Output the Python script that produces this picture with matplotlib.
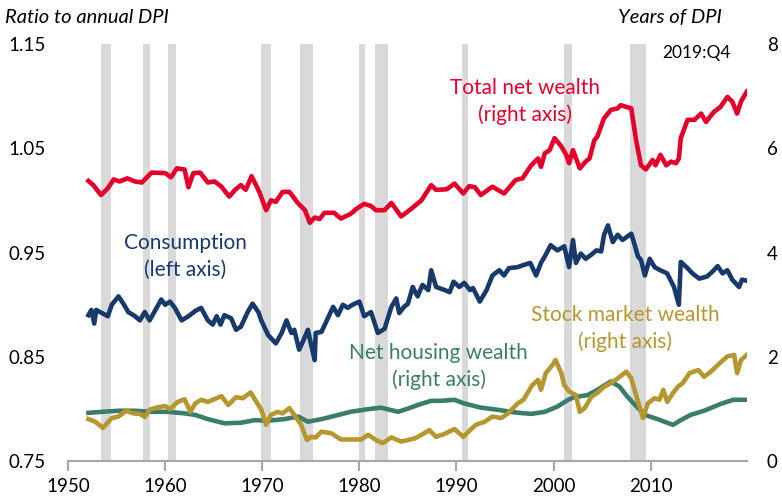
import numpy as np
import matplotlib
matplotlib.use("Agg")
import matplotlib.pyplot as plt

plt.rcParams['font.family'] = ['Lato', 'DejaVu Sans']

# NBER recessions (start, end)
recessions = [(1953.4, 1954.4), (1957.7, 1958.4), (1960.3, 1961.1), (1969.9, 1970.9),
              (1973.9, 1975.2), (1980.0, 1980.6), (1981.6, 1982.9), (1990.6, 1991.2),
              (2001.1, 2001.9), (2007.9, 2009.5)]

# Total net wealth, years of DPI (right axis)
wealth_yr = [1952.1, 1952.6, 1953.4, 1954.1, 1954.7, 1955.3, 1956.1, 1956.9, 1957.6, 1958.6,
             1960.0, 1960.6, 1961.2, 1962.0, 1962.4, 1962.9, 1963.6, 1964.4, 1965.1, 1965.8,
             1966.6, 1967.2, 1967.8, 1968.3, 1968.9, 1969.7, 1970.4, 1970.9, 1971.4, 1972.1,
             1972.8, 1973.7, 1974.4, 1974.9, 1975.4, 1975.9, 1976.4, 1977.4, 1978.1, 1979.1,
             1979.8, 1980.5, 1981.2, 1981.7, 1982.6, 1983.3, 1984.3, 1985.3, 1986.4, 1987.4,
             1987.9, 1989.0, 1989.8, 1990.7, 1991.3, 1991.9, 1992.5, 1993.7, 1994.9, 1996.1,
             1996.8, 1997.7, 1998.4, 1998.7, 1999.1, 1999.6, 2000.1, 2000.8, 2001.3, 2001.6,
             2002.0, 2002.7, 2003.3, 2003.7, 2004.2, 2004.5, 2005.2, 2005.9, 2006.6, 2006.9,
             2008.0, 2008.5, 2009.0, 2009.5, 2010.2, 2010.5, 2011.0, 2011.6, 2012.1, 2012.6,
             2012.9, 2013.1, 2013.8, 2014.5, 2015.2, 2015.7, 2016.5, 2017.2, 2017.9, 2018.4,
             2018.9, 2019.3, 2019.9]
wealth = [5.37, 5.29, 5.10, 5.23, 5.40, 5.36, 5.42, 5.36, 5.34, 5.53,
          5.52, 5.44, 5.61, 5.59, 5.25, 5.52, 5.53, 5.34, 5.36, 5.26,
          5.07, 5.20, 5.29, 5.20, 5.46, 5.16, 4.81, 5.00, 4.97, 5.16,
          5.16, 4.94, 4.81, 4.57, 4.67, 4.64, 4.76, 4.76, 4.65, 4.74,
          4.85, 4.93, 4.89, 4.81, 4.81, 4.95, 4.69, 4.83, 5.00, 5.29,
          5.20, 5.21, 5.32, 5.13, 5.27, 5.25, 5.10, 5.26, 5.13, 5.39,
          5.42, 5.67, 5.80, 5.64, 5.90, 5.96, 6.19, 6.03, 5.87, 5.71,
          5.96, 5.61, 5.74, 5.80, 6.15, 6.22, 6.57, 6.73, 6.76, 6.82,
          6.76, 6.15, 5.67, 5.59, 5.77, 5.67, 5.87, 5.67, 5.74, 5.71,
          5.80, 6.19, 6.54, 6.54, 6.66, 6.50, 6.69, 6.79, 6.98, 6.89,
          6.66, 6.89, 7.08]

# Consumption, ratio to DPI (left axis)
cons_yr = [1952.1, 1952.4, 1952.7, 1952.9, 1953.5, 1954.1, 1954.5, 1955.2, 1955.7, 1956.2,
           1956.9, 1957.4, 1957.9, 1958.4, 1959.0, 1959.6, 1960.0, 1960.5, 1961.0, 1961.7,
           1962.4, 1963.1, 1963.7, 1964.4, 1964.9, 1965.3, 1965.7, 1966.1, 1966.8, 1967.3,
           1967.8, 1968.5, 1969.0, 1969.6, 1969.9, 1970.6, 1971.4, 1972.0, 1972.5, 1973.0,
           1973.3, 1973.8, 1974.2, 1974.7, 1975.0, 1975.4, 1975.5, 1976.1, 1976.6, 1977.3,
           1977.8, 1978.3, 1978.8, 1979.3, 1980.0, 1980.5, 1981.2, 1981.9, 1982.6, 1983.3,
           1983.8, 1984.1, 1984.6, 1985.0, 1985.5, 1986.0, 1986.5, 1987.1, 1987.4, 1987.9,
           1988.8, 1989.3, 1989.7, 1990.3, 1990.8, 1991.4, 1991.7, 1992.4, 1993.1, 1993.7,
           1994.4, 1994.9, 1995.4, 1996.3, 1996.9, 1997.6, 1998.2, 1998.7, 1999.2, 1999.7,
           2000.4, 2001.1, 2001.6, 2002.0, 2002.3, 2002.8, 2003.3, 2003.9, 2004.4, 2004.9,
           2005.2, 2005.6, 2006.1, 2006.6, 2007.1, 2008.0, 2008.3, 2008.7, 2009.0, 2009.4,
           2009.9, 2010.4, 2011.0, 2011.7, 2012.4, 2012.9, 2013.1, 2013.8, 2014.3, 2015.0,
           2015.8, 2016.4, 2016.9, 2017.4, 2017.9, 2018.4, 2019.1, 2019.4, 2019.9]
cons = [0.890, 0.895, 0.882, 0.895, 0.892, 0.889, 0.900, 0.908, 0.901, 0.893,
        0.889, 0.885, 0.893, 0.885, 0.895, 0.905, 0.900, 0.903, 0.897, 0.885,
        0.889, 0.894, 0.897, 0.885, 0.881, 0.889, 0.881, 0.890, 0.887, 0.876,
        0.879, 0.893, 0.901, 0.893, 0.885, 0.871, 0.863, 0.873, 0.885, 0.873,
        0.876, 0.857, 0.865, 0.876, 0.863, 0.847, 0.873, 0.874, 0.884, 0.898,
        0.890, 0.900, 0.897, 0.900, 0.903, 0.889, 0.893, 0.873, 0.877, 0.898,
        0.906, 0.892, 0.898, 0.901, 0.917, 0.908, 0.919, 0.914, 0.933, 0.917,
        0.914, 0.912, 0.922, 0.917, 0.921, 0.914, 0.916, 0.903, 0.914, 0.928,
        0.933, 0.928, 0.935, 0.936, 0.938, 0.940, 0.928, 0.940, 0.948, 0.957,
        0.952, 0.956, 0.936, 0.962, 0.940, 0.949, 0.944, 0.948, 0.952, 0.951,
        0.967, 0.976, 0.960, 0.967, 0.962, 0.968, 0.959, 0.946, 0.943, 0.928,
        0.944, 0.936, 0.933, 0.930, 0.917, 0.900, 0.941, 0.935, 0.930, 0.925,
        0.927, 0.932, 0.937, 0.930, 0.933, 0.924, 0.917, 0.924, 0.923]

# Net housing wealth, years of DPI (right axis)
house_yr = [1952.1, 1953.5, 1955.2, 1956.9, 1958.6, 1960.3, 1962.0, 1963.1, 1964.4, 1966.1,
            1967.8, 1969.2, 1970.6, 1972.3, 1973.7, 1974.7, 1976.1, 1977.4, 1979.1, 1980.9,
            1982.2, 1984.0, 1985.3, 1986.0, 1987.4, 1988.4, 1989.8, 1990.8, 1992.5, 1994.2,
            1995.9, 1997.7, 1999.1, 2000.4, 2001.5, 2002.1, 2003.5, 2004.5, 2005.9, 2006.8,
            2007.6, 2008.7, 2009.4, 2010.7, 2012.3, 2013.1, 2014.1, 2015.5, 2017.2, 2018.5,
            2019.9]
house = [0.93, 0.95, 0.97, 0.97, 0.95, 0.95, 0.92, 0.89, 0.81, 0.73,
         0.74, 0.79, 0.78, 0.81, 0.86, 0.76, 0.81, 0.87, 0.95, 1.00,
         1.03, 0.95, 1.03, 1.08, 1.16, 1.16, 1.18, 1.11, 1.03, 0.99,
         0.94, 0.91, 0.95, 1.05, 1.18, 1.23, 1.27, 1.37, 1.53, 1.43,
         1.24, 1.02, 0.89, 0.81, 0.70, 0.79, 0.89, 0.97, 1.10, 1.18,
         1.18]

# Stock market wealth, years of DPI (right axis)
stock_yr = [1952.1, 1952.8, 1953.6, 1954.5, 1955.2, 1956.0, 1956.7, 1957.4, 1957.9, 1958.4,
            1959.3, 1960.0, 1960.5, 1961.3, 1962.0, 1962.6, 1963.1, 1963.7, 1964.4, 1965.3,
            1965.8, 1966.5, 1967.3, 1968.0, 1968.8, 1969.4, 1969.9, 1970.4, 1970.9, 1971.6,
            1972.1, 1972.8, 1973.3, 1974.0, 1974.6, 1975.0, 1975.5, 1976.1, 1977.1, 1978.1,
            1979.1, 1980.2, 1980.9, 1981.7, 1982.4, 1983.3, 1984.3, 1985.0, 1985.7, 1986.7,
            1987.2, 1987.9, 1988.8, 1989.8, 1990.7, 1991.4, 1992.0, 1992.9, 1993.7, 1994.6,
            1995.3, 1996.3, 1996.9, 1997.8, 1998.4, 1998.7, 1999.2, 1999.9, 2000.2, 2000.8,
            2001.1, 2001.6, 2002.3, 2002.7, 2003.2, 2003.9, 2004.5, 2005.2, 2005.9, 2006.6,
            2007.5, 2008.0, 2008.5, 2009.2, 2009.7, 2010.4, 2010.9, 2011.3, 2011.7, 2012.3,
            2012.8, 2013.3, 2014.0, 2014.9, 2015.5, 2016.2, 2017.1, 2017.9, 2018.6, 2018.9,
            2019.3, 2019.9]
stock = [0.81, 0.76, 0.64, 0.83, 0.86, 0.97, 0.92, 0.91, 0.85, 0.99,
         1.04, 1.06, 1.00, 1.14, 1.19, 0.95, 1.11, 1.18, 1.14, 1.21,
         1.25, 1.08, 1.23, 1.21, 1.32, 1.14, 0.99, 0.70, 0.89, 0.95,
         0.92, 1.02, 0.89, 0.70, 0.41, 0.47, 0.46, 0.57, 0.54, 0.42,
         0.42, 0.42, 0.51, 0.41, 0.35, 0.46, 0.38, 0.41, 0.44, 0.54,
         0.60, 0.47, 0.53, 0.62, 0.47, 0.60, 0.70, 0.76, 0.86, 0.83,
         0.92, 1.11, 1.18, 1.46, 1.56, 1.37, 1.69, 1.85, 1.94, 1.69,
         1.46, 1.34, 1.27, 0.95, 1.02, 1.24, 1.31, 1.43, 1.50, 1.59,
         1.72, 1.59, 1.27, 0.83, 1.11, 1.21, 1.18, 1.37, 1.14, 1.31,
         1.43, 1.50, 1.69, 1.75, 1.62, 1.72, 1.88, 2.01, 2.04, 1.69,
         1.94, 2.04]

left_ticks = [0.75, 0.85, 0.95, 1.05, 1.15]
right_ticks = [0, 2, 4, 6, 8]
x_ticks = [1950, 1960, 1970, 1980, 1990, 2000, 2010]

red = '#E4002B'
navy = '#17396B'
green = '#3B7D6B'
gold = '#B5962F'
fs = 13.5
lfs = 15

fig = plt.figure(figsize=(7.82, 5.01), dpi=100)
ax = fig.add_axes([0.087, 0.079, 0.868, 0.834])
ax2 = ax.twinx()

for s, e in recessions:
    ax.axvspan(s, e, color='#D9D9D9', lw=0, zorder=0)

ax.plot(cons_yr, cons, color=navy, lw=3.3, solid_joinstyle='round', zorder=3)
ax2.plot(wealth_yr, wealth, color=red, lw=3.3, solid_joinstyle='round', zorder=3)
ax2.plot(house_yr, house, color=green, lw=3.3, solid_joinstyle='round', zorder=3)
ax2.plot(stock_yr, stock, color=gold, lw=3.3, solid_joinstyle='round', zorder=3)

ax.set_xlim(1950, 2019.9)
ax.set_ylim(0.75, 1.15)
ax2.set_ylim(0, 8)
ax.set_yticks(left_ticks)
ax.set_yticklabels([f'{t:.2f}' for t in left_ticks])
ax2.set_yticks(right_ticks)
ax.set_xticks(x_ticks)

for a in (ax, ax2):
    for side in ('top', 'left', 'right'):
        a.spines[side].set_visible(False)
    a.spines['bottom'].set_color('#A6A6A6')
    a.spines['bottom'].set_linewidth(1.5)
ax2.spines['bottom'].set_visible(False)

ax.tick_params(axis='x', length=7, width=1.5, color='#A6A6A6', labelsize=fs, pad=5)
ax.tick_params(axis='y', length=0, labelsize=fs, pad=16)
ax2.tick_params(axis='y', length=0, labelsize=fs, pad=14.5)

fig.text(0.006, 0.965, 'Ratio to annual DPI', fontsize=14.5, style='italic', va='center')
fig.text(0.923, 0.965, 'Years of DPI', fontsize=14.5, style='italic', va='center', ha='right')
fig.text(0.934, 0.895, '2019:Q4', fontsize=12.5, va='center', ha='right')

fig.text(0.671, 0.798, 'Total net wealth\n(right axis)', color=red, fontsize=lfs,
         ha='center', va='center', linespacing=1.4)
fig.text(0.237, 0.488, 'Consumption\n(left axis)', color=navy, fontsize=lfs,
         ha='center', va='center', linespacing=1.4)
fig.text(0.561, 0.269, 'Net housing wealth\n(right axis)', color=green, fontsize=lfs,
         ha='center', va='center', linespacing=1.4)
fig.text(0.799, 0.344, 'Stock market wealth\n(right axis)', color=gold, fontsize=lfs,
         ha='center', va='center', linespacing=1.4)

fig.savefig('out.png', dpi=100)
